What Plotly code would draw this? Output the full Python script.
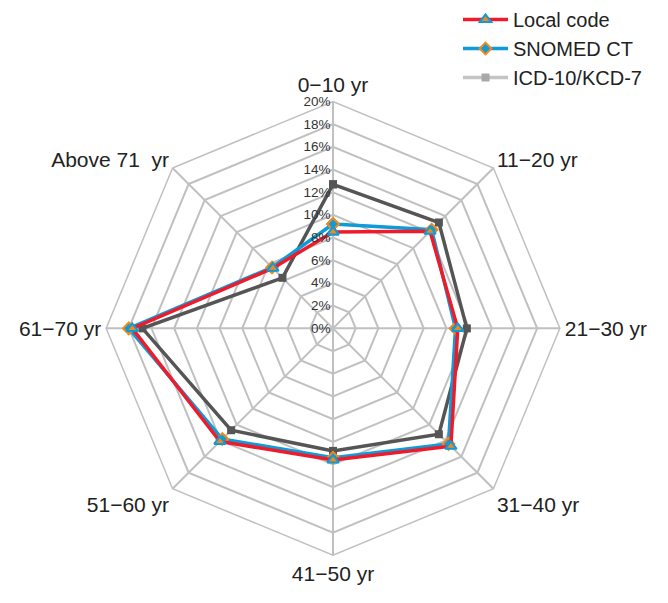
import plotly.graph_objects as go

categories = ["0\u221210 yr", "11\u221220 yr", "21\u221230 yr", "31\u221240 yr",
              "41\u221250 yr", "51\u221260 yr", "61\u221270 yr", "Above 71  yr"]
local_code = [8.5, 12.1, 11.0, 14.7, 11.6, 14.1, 17.7, 7.5]
snomed_ct = [9.2, 12.3, 10.8, 14.4, 11.4, 13.8, 18.0, 7.6]
icd10_kcd7 = [12.7, 13.2, 11.8, 13.2, 10.8, 12.7, 16.8, 6.3]
radial_ticks = [0, 2, 4, 6, 8, 10, 12, 14, 16, 18, 20]
radial_ticktext = [f"{v}%" for v in radial_ticks]

def closed(vals):
    return list(vals) + [vals[0]]

theta = closed(categories)

fig = go.Figure()
fig.add_trace(go.Scatterpolar(
    r=closed(icd10_kcd7), theta=theta, mode="lines+markers", name="ICD-10/KCD-7",
    line=dict(color="#555555", width=3.5),
    marker=dict(symbol="square", size=8, color="#555555"),
    showlegend=False))
fig.add_trace(go.Scatterpolar(
    r=[None], theta=[None], mode="lines+markers", name="ICD-10/KCD-7",
    line=dict(color="#c4c4c4", width=3.5),
    marker=dict(symbol="square", size=8, color="#a8a8a8")))
fig.add_trace(go.Scatterpolar(
    r=closed(snomed_ct), theta=theta, mode="lines+markers", name="SNOMED CT",
    line=dict(color="#109ad8", width=3.5),
    marker=dict(symbol="diamond", size=9, color="#109ad8",
                line=dict(color="#f08a1c", width=2))))
fig.add_trace(go.Scatterpolar(
    r=closed(local_code), theta=theta, mode="lines+markers", name="Local code",
    line=dict(color="#ee1c2b", width=3.5),
    marker=dict(symbol="triangle-up", size=10, color="#f08a1c",
                line=dict(color="#109ad8", width=2))))

fig.update_layout(
    width=668, height=603,
    margin=dict(l=0, r=0, t=0, b=0),
    paper_bgcolor="white",
    font=dict(family="Liberation Sans, Arial, sans-serif", color="#222222"),
    showlegend=True,
    legend=dict(x=458 / 668, xanchor="left", y=1.005, yanchor="top", traceorder="reversed",
                itemwidth=45, tracegroupgap=0,
                font=dict(size=20, color="#222222"), bgcolor="rgba(0,0,0,0)"),
    polar=dict(
        domain=dict(x=[(333 - 228) / 668, (333 + 228) / 668],
                    y=[(276 - 228) / 603, (276 + 228) / 603]),
        gridshape="linear",
        bgcolor="white",
        radialaxis=dict(range=[0, 20], tickvals=radial_ticks, ticktext=radial_ticktext,
                        angle=90, tickangle=90, side="counterclockwise",
                        showline=False, ticks="", gridcolor="#c0c0c0", gridwidth=1.5,
                        tickfont=dict(size=13.5, color="#333333")),
        angularaxis=dict(direction="clockwise", rotation=90, categoryorder="array",
                         categoryarray=categories,
                         gridcolor="#c0c0c0", gridwidth=1.5, linecolor="#c0c0c0",
                         linewidth=1.5, showline=True, ticks="",
                         tickfont=dict(size=21, color="#222222")),
    ),
)

fig.write_html("out.html", config={"displayModeBar": False},
               post_script="document.body.style.margin='0';")
